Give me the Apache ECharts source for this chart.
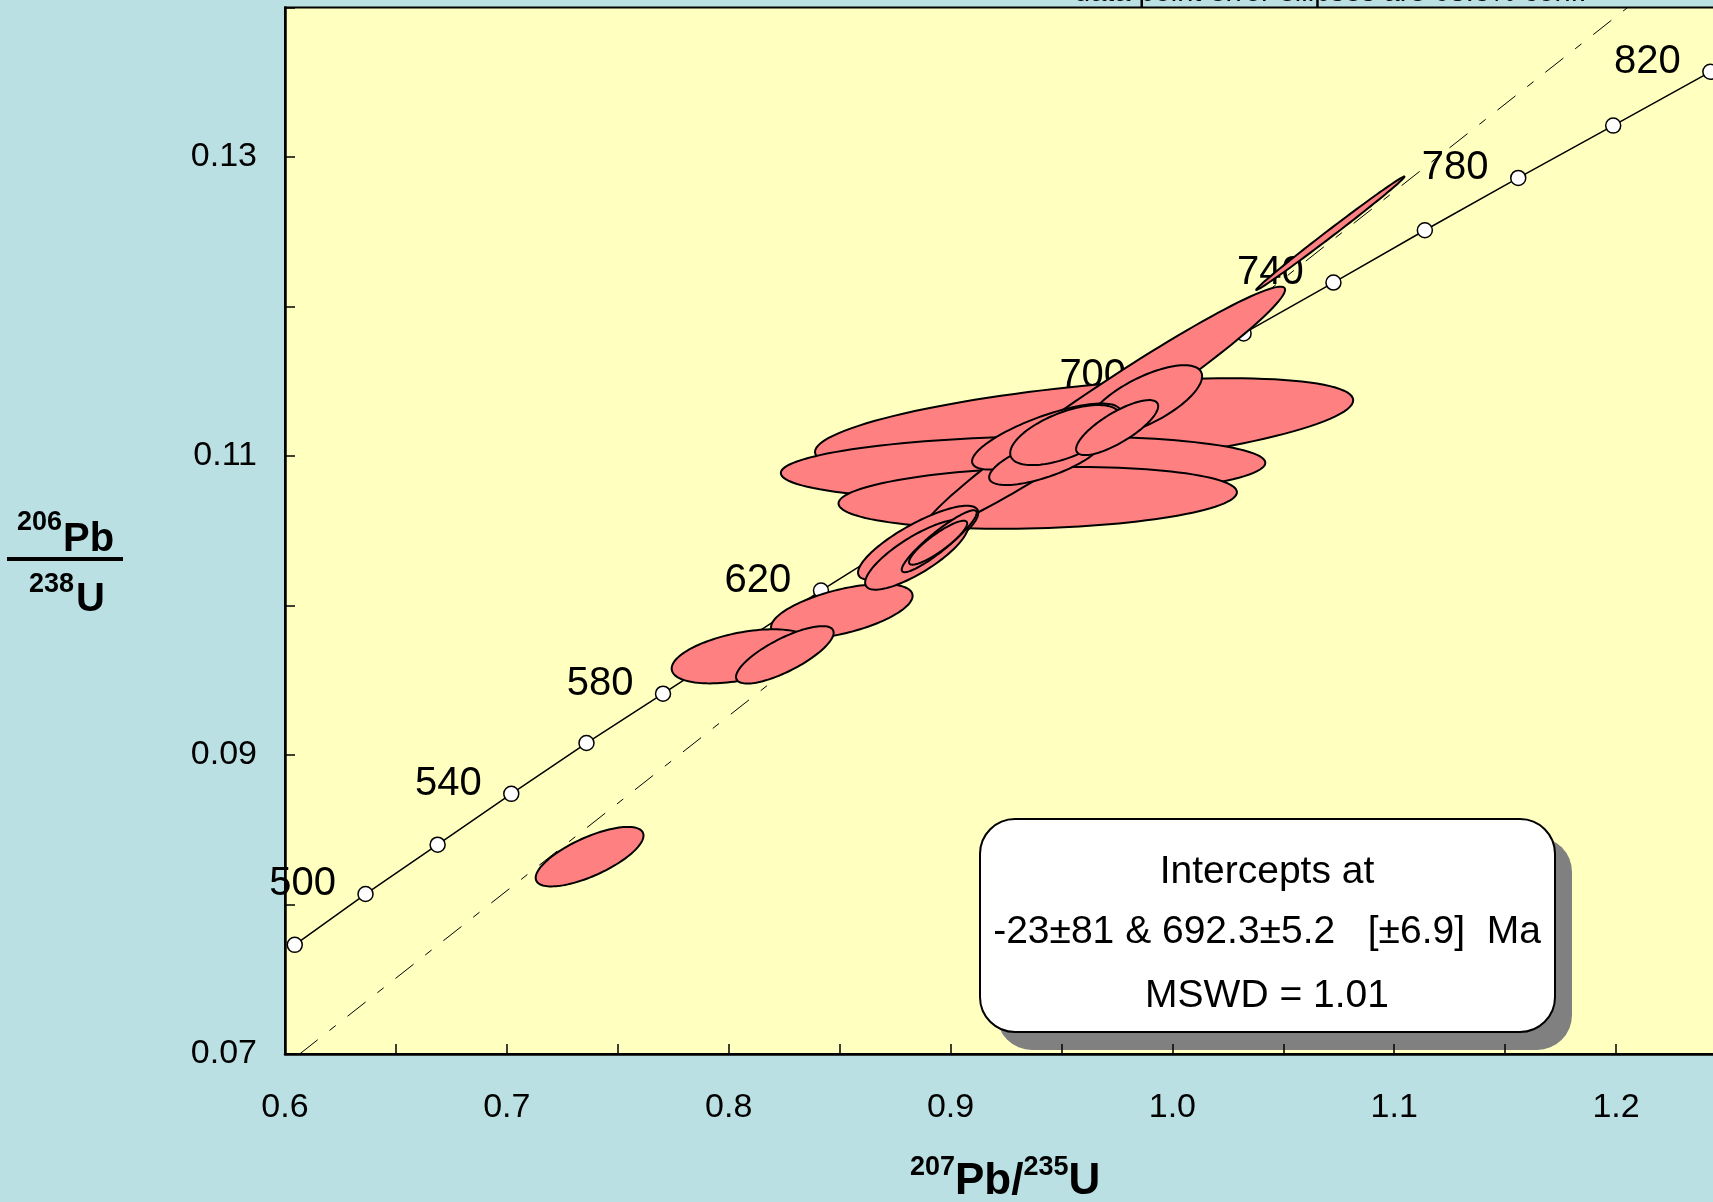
<!DOCTYPE html>
<html>
<head>
<meta charset="utf-8">
<title>Concordia</title>
<script src="https://cdn.jsdelivr.net/npm/echarts@6/dist/echarts.min.js"></script>
<style>
  html, body { margin: 0; padding: 0; background: #BAE0E4; }
  #chart { width: 1713px; height: 1202px; }
</style>
</head>
<body>
<div id="chart"></div>
<script>
// concordia ticks (Ma) and their ratios
const concAge = [480, 500, 520, 540, 560, 580, 600, 620, 640, 660, 680, 700, 720, 740, 760, 780, 800, 820];
const concX = [0.6044, 0.6363, 0.6688, 0.7020, 0.7359, 0.7704, 0.8056, 0.8416, 0.8782, 0.9155, 0.9537, 0.9925, 1.0321, 1.0726, 1.1138, 1.1559, 1.1987, 1.2425];
const concY = [0.0773, 0.0807, 0.0840, 0.0874, 0.0908, 0.0941, 0.0975, 0.1010, 0.1044, 0.1078, 0.1113, 0.1147, 0.1182, 0.1216, 0.1251, 0.1286, 0.1321, 0.1357];
const ageLabels = [500, 540, 580, 620, 660, 700, 740, 780, 820];

// discordia (intercepts -23 and 692.3 Ma), clipped to the plot
const discX = [0.6066, 1.2052];
const discY = [0.07, 0.14];

// error ellipses: centre, half-widths, correlation
const ellX   = [0.7373, 0.8510, 0.8059, 0.8253, 0.9602, 0.9327, 0.9393, 0.9690, 0.9875, 0.9431, 0.9431, 0.9517, 0.9751, 0.8854, 0.8847, 0.8949, 0.8944, 1.0712];
const ellY   = [0.0832, 0.0996, 0.0966, 0.0967, 0.1120, 0.1092, 0.1072, 0.1131, 0.1137, 0.1113, 0.1098, 0.1114, 0.1119, 0.1042, 0.1034, 0.1043, 0.1042, 0.1249];
const ellSx  = [0.0243, 0.0319, 0.0316, 0.0220, 0.1213, 0.1092, 0.0898, 0.0818, 0.0259, 0.0334, 0.0257, 0.0248, 0.0185, 0.0271, 0.0232, 0.0169, 0.0131, 0.0334];
const ellSy  = [0.00199, 0.00184, 0.00181, 0.00192, 0.00320, 0.00213, 0.00207, 0.00823, 0.00237, 0.00221, 0.00174, 0.00201, 0.00184, 0.00247, 0.00234, 0.00207, 0.00147, 0.00379];
const ellRho = [0.71, 0.57, 0.45, 0.77, 0.54, 0.16, 0.18, 0.975, 0.69, 0.75, 0.70, 0.60, 0.78, 0.81, 0.80, 0.92, 0.88, 0.997];

const boxLines = ['Intercepts at', '-23\u00b181 & 692.3\u00b15.2   [\u00b16.9]  Ma', 'MSWD = 1.01'];

const FONT = '"Liberation Sans", Arial, sans-serif';

const chart = echarts.init(document.getElementById('chart'));

const concData = concX.map((x, i) => ({
  value: [x, concY[i]],
  label: { show: ageLabels.includes(concAge[i]), formatter: String(concAge[i]) }
}));

const ellData = ellX.map((x, i) => [x, ellY[i], ellSx[i], ellSy[i], ellRho[i]]);

function renderEllipse(params, api) {
  const cx = api.value(0), cy = api.value(1);
  const sx = api.value(2), sy = api.value(3), r = api.value(4);
  const k = Math.sqrt(1 - r * r);
  const pts = [];
  const n = 120;
  for (let i = 0; i < n; i++) {
    const t = (i / n) * Math.PI * 2;
    pts.push(api.coord([cx + sx * Math.cos(t), cy + sy * (r * Math.cos(t) + k * Math.sin(t))]));
  }
  return {
    type: 'polygon',
    shape: { points: pts },
    style: { fill: '#FF8080', stroke: '#000', lineWidth: 2 }
  };
}

const isTenth = v => Math.abs(v * 10 - Math.round(v * 10)) < 1e-6;

const option = {
  backgroundColor: '#BAE0E4',
  animation: false,
  grid: {
    left: 285, top: 7.5, right: -14, bottom: 148,
    outerBoundsMode: 'none', containLabel: false,
    show: true, backgroundColor: '#FFFFC0', borderColor: '#000', borderWidth: 2
  },
  xAxis: {
    type: 'value', min: 0.6, max: 1.25, interval: 0.05, z: 5,
    axisLine: { lineStyle: { color: '#000', width: 2.5 } },
    axisTick: { inside: true, length: 10, lineStyle: { color: '#000', width: 1.5 } },
    splitLine: { show: false },
    axisLabel: {
      margin: 37, fontSize: 34, color: '#000', fontFamily: FONT,
      formatter: v => isTenth(v) ? v.toFixed(1) : ''
    }
  },
  yAxis: {
    type: 'value', min: 0.07, max: 0.14, interval: 0.01, z: 5,
    axisLine: { lineStyle: { color: '#000', width: 2.5 } },
    axisTick: { inside: true, length: 10, lineStyle: { color: '#000', width: 1.5 } },
    splitLine: { show: false },
    axisLabel: {
      margin: 28, fontSize: 34, color: '#000', fontFamily: FONT, padding: [4, 0, 0, 0],
      formatter: v => (Math.round(v * 100) % 2 === 1) ? v.toFixed(2) : ''
    }
  },
  series: [
    {
      type: 'line', z: 1,
      data: discX.map((x, i) => [x, discY[i]]),
      symbol: 'none',
      lineStyle: { color: '#000', width: 1, type: [23, 15, 8, 15] },
      silent: true
    },
    {
      type: 'line', z: 1,
      data: concData,
      symbol: 'circle', symbolSize: 15, showAllSymbol: true,
      lineStyle: { color: '#000', width: 1.5 },
      itemStyle: { color: '#fff', borderColor: '#000', borderWidth: 1.5 },
      label: {
        position: 'inside', offset: [-63, -10],
        fontSize: 40, color: '#000', fontFamily: FONT
      },
      silent: true
    },
    {
      type: 'custom', z: 3,
      renderItem: renderEllipse,
      data: ellData,
      encode: { x: 0, y: 1 },
      silent: true
    }
  ],
  graphic: [
    // caption cut by the top edge
    { type: 'text', x: 1074, y: -7, z: 10,
      style: { text: 'data point error ellipses are 68.3% conf.', fontSize: 29, fontFamily: FONT, fill: '#000', verticalAlign: 'middle' } },
    // y title as a fraction
    { type: 'text', x: 62, y: 523, style: { text: '206', fontSize: 27, fontWeight: 'bold', fontFamily: FONT, fill: '#000', align: 'right', verticalAlign: 'middle' } },
    { type: 'text', x: 63, y: 539.5, style: { text: 'Pb', fontSize: 40, fontWeight: 'bold', fontFamily: FONT, fill: '#000', align: 'left', verticalAlign: 'middle' } },
    { type: 'line', shape: { x1: 7, y1: 559, x2: 123, y2: 559 }, style: { stroke: '#000', lineWidth: 4 } },
    { type: 'text', x: 74, y: 584.5, style: { text: '238', fontSize: 27, fontWeight: 'bold', fontFamily: FONT, fill: '#000', align: 'right', verticalAlign: 'middle' } },
    { type: 'text', x: 76, y: 599.5, style: { text: 'U', fontSize: 40, fontWeight: 'bold', fontFamily: FONT, fill: '#000', align: 'left', verticalAlign: 'middle' } },
    // x title
    { type: 'text', x: 910, y: 1167.5, style: { text: '207', fontSize: 27, fontWeight: 'bold', fontFamily: FONT, fill: '#000', align: 'left', verticalAlign: 'middle' } },
    { type: 'text', x: 955, y: 1181.5, style: { text: 'Pb/', fontSize: 44, fontWeight: 'bold', fontFamily: FONT, fill: '#000', align: 'left', verticalAlign: 'middle' } },
    { type: 'text', x: 1023.5, y: 1167.5, style: { text: '235', fontSize: 27, fontWeight: 'bold', fontFamily: FONT, fill: '#000', align: 'left', verticalAlign: 'middle' } },
    { type: 'text', x: 1068.5, y: 1181.5, style: { text: 'U', fontSize: 44, fontWeight: 'bold', fontFamily: FONT, fill: '#000', align: 'left', verticalAlign: 'middle' } },
    // intercept box with shadow
    { type: 'rect', z: 3, shape: { x: 997, y: 837, width: 575, height: 213, r: 35 }, style: { fill: '#808080' } },
    { type: 'rect', z: 4, shape: { x: 980, y: 819, width: 575, height: 213, r: 35 }, style: { fill: '#fff', stroke: '#000', lineWidth: 2 } },
    { type: 'text', z: 6, x: 1267, y: 872, style: { text: boxLines[0], fontSize: 39, fontFamily: FONT, fill: '#000', align: 'center', verticalAlign: 'middle' } },
    { type: 'text', z: 6, x: 1267, y: 932, style: { text: boxLines[1], fontSize: 39, fontFamily: FONT, fill: '#000', align: 'center', verticalAlign: 'middle' } },
    { type: 'text', z: 6, x: 1267, y: 996, style: { text: boxLines[2], fontSize: 39, fontFamily: FONT, fill: '#000', align: 'center', verticalAlign: 'middle' } }
  ]
};

chart.setOption(option);
</script>
</body>
</html>
